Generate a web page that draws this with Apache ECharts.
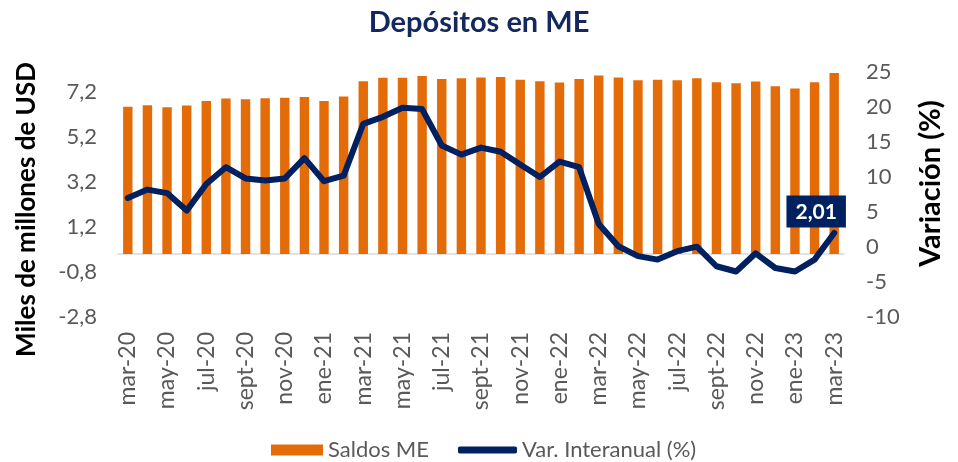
<!DOCTYPE html>
<html lang="es">
<head>
    <meta charset="UTF-8">
    <title>Depósitos en ME</title>
    <script src="https://cdn.jsdelivr.net/npm/echarts@6/dist/echarts.min.js"></script>
    <style>
        html, body { margin: 0; padding: 0; background: #fff; }
        #chart { width: 958px; height: 462px; }
    </style>
</head>
<body>
<div id="chart"></div>
<script>
    // meses mar-20 .. mar-23
    var meses = ['mar-20', 'abr-20', 'may-20', 'jun-20', 'jul-20', 'ago-20', 'sept-20', 'oct-20', 'nov-20', 'dic-20',
        'ene-21', 'feb-21', 'mar-21', 'abr-21', 'may-21', 'jun-21', 'jul-21', 'ago-21', 'sept-21', 'oct-21', 'nov-21', 'dic-21',
        'ene-22', 'feb-22', 'mar-22', 'abr-22', 'may-22', 'jun-22', 'jul-22', 'ago-22', 'sept-22', 'oct-22', 'nov-22', 'dic-22',
        'ene-23', 'feb-23', 'mar-23'];
    // Saldos ME (miles de millones de USD)
    var saldos = [6.55, 6.62, 6.53, 6.61, 6.81, 6.92, 6.89, 6.93, 6.95, 6.99, 6.81, 7.01,
        7.69, 7.84, 7.84, 7.92, 7.79, 7.82, 7.85, 7.88, 7.75, 7.69, 7.63, 7.79,
        7.94, 7.85, 7.73, 7.75, 7.73, 7.82, 7.64, 7.60, 7.68, 7.47, 7.37, 7.64, 8.06];
    // Var. interanual (%)
    var variacion = [7.0, 8.2, 7.7, 5.2, 9.0, 11.4, 9.8, 9.5, 9.8, 12.7, 9.4, 10.2,
        17.6, 18.6, 19.9, 19.7, 14.5, 13.2, 14.2, 13.6, 11.8, 10.0, 12.2, 11.4,
        3.3, 0.1, -1.3, -1.8, -0.6, 0.05, -2.75, -3.5, -0.9, -3.0, -3.5, -1.8, 2.01];

    var naranja = '#E36C09';
    var azul = '#002060';
    var gris = '#595959';
    var fuente = 'Lato';

    // solo el ultimo punto lleva etiqueta
    var lineData = variacion.map(function (v, i) {
        if (i === variacion.length - 1) {
            return {
                value: v,
                label: {
                    show: true,
                    position: 'top',
                    distance: 5,
                    offset: [-18, 0],
                    formatter: function (p) { return p.value.toFixed(2).replace('.', ','); },
                    backgroundColor: azul,
                    color: '#fff',
                    fontFamily: fuente,
                    fontWeight: 'bold',
                    fontSize: 21,
                    padding: [6, 9, 5, 9]
                }
            };
        }
        return v;
    });

    var chart = echarts.init(document.getElementById('chart'));
    var option = {
        animation: false,
        title: {
            text: 'Depósitos en ME',
            left: 'center',
            top: 3,
            textStyle: { color: '#14285F', fontFamily: fuente, fontWeight: 'bold', fontSize: 29 }
        },
        legend: [
            {
                left: 266,
                top: 434,
                itemWidth: 52,
                itemHeight: 11,
                textStyle: { color: gris, fontFamily: fuente, fontSize: 22 },
                data: [{ name: 'Saldos ME', icon: 'rect', itemStyle: { color: naranja } }]
            },
            {
                left: 453,
                top: 434,
                itemWidth: 59,
                itemHeight: 7,
                textStyle: { color: gris, fontFamily: fuente, fontSize: 22 },
                data: [{ name: 'Var. Interanual (%)', icon: 'roundRect', itemStyle: { color: azul } }]
            }
        ],
        grid: { left: 118, right: 114, top: 72, bottom: 145, outerBoundsMode: 'none' },
        xAxis: {
            type: 'category',
            data: meses,
            axisLine: { lineStyle: { color: '#D9D9D9', width: 1.5 } },
            axisTick: { interval: 1, length: 7, lineStyle: { color: '#D9D9D9', width: 1.5 } },
            axisLabel: { interval: 1, rotate: 90, margin: 15, color: gris, fontFamily: fuente, fontSize: 23 }
        },
        yAxis: [
            {
                type: 'value',
                min: -2.8,
                max: 8.1,
                interval: 2,
                name: 'Miles de millones de USD',
                nameLocation: 'middle',
                nameGap: 78,
                nameTextStyle: { color: '#000', fontFamily: fuente, fontWeight: 'bold', fontSize: 26, padding: [0, 30, 0, 0] },
                splitLine: { show: false },
                axisLine: { show: false },
                axisTick: { show: false },
                axisLabel: {
                    margin: 21, color: gris, fontFamily: fuente, fontSize: 22, showMaxLabel: false,
                    formatter: function (v) { return v.toFixed(1).replace('.', ','); }
                }
            },
            {
                type: 'value',
                min: -10,
                max: 25,
                interval: 5,
                name: 'Variación (%)',
                nameLocation: 'middle',
                nameGap: 72,
                nameTextStyle: { color: '#000', fontFamily: fuente, fontWeight: 'bold', fontSize: 29, padding: [0, 0, 0, 22] },
                splitLine: { show: false },
                axisLine: { show: false },
                axisTick: { show: false },
                axisLabel: { margin: 22, color: gris, fontFamily: fuente, fontSize: 22 }
            }
        ],
        series: [
            {
                name: 'Saldos ME',
                type: 'bar',
                yAxisIndex: 0,
                data: saldos,
                barWidth: '48%',
                itemStyle: { color: naranja }
            },
            {
                name: 'Var. Interanual (%)',
                type: 'line',
                yAxisIndex: 1,
                data: lineData,
                symbol: 'circle',
                symbolSize: 1,
                showSymbol: true,
                lineStyle: { color: azul, width: 6, join: 'round', cap: 'round' },
                itemStyle: { color: azul }
            }
        ]
    };
    chart.setOption(option);
</script>
</body>
</html>
